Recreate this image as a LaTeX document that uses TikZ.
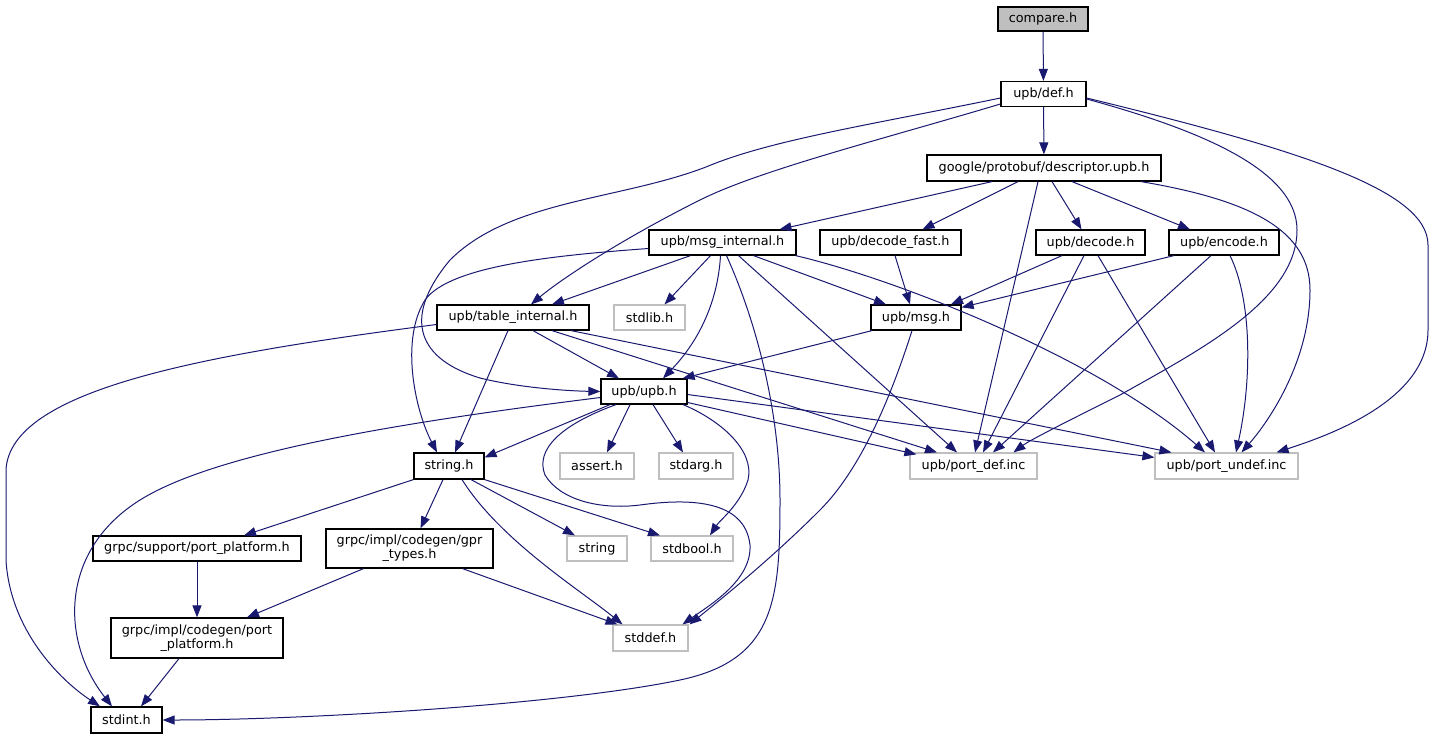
\documentclass[tikz,border=0pt]{standalone}
\usepackage{fontspec}
\setmainfont{DejaVu Sans}
\usetikzlibrary{arrows.meta}
\definecolor{navy}{RGB}{25,25,112}
\definecolor{syslight}{RGB}{191,191,191}
\begin{document}
\begin{tikzpicture}[x=1pt,y=-1pt,
    file/.style={draw=black,fill=white,line width=1.2pt,inner sep=0pt,minimum height=25pt,
      font=\fontsize{12.8}{14}\selectfont,align=center},
    sysfile/.style={file,draw=syslight},
    dep/.style={draw=navy,line width=1pt,-{Triangle[length=12pt,width=9pt]}}]
    \useasboundingbox (0,0) rectangle (1435,739);
    \node[file,fill=syslight,minimum width=90pt,minimum height=24pt] (compare) at (1043,19) {compare.h};
    \node[file,minimum width=85pt] (def) at (1043.5,94) {upb/def.h};
    \node[file,minimum width=234pt,minimum height=26pt] (desc) at (1044,168) {google/protobuf/descriptor.upb.h};
    \node[file,minimum width=147pt] (msgint) at (722.5,242.5) {upb/msg\_internal.h};
    \node[file,minimum width=141pt] (decfast) at (890.5,242.5) {upb/decode\_fast.h};
    \node[file,minimum width=109pt] (decode) at (1090.5,242.5) {upb/decode.h};
    \node[file,minimum width=110pt] (encode) at (1224,242.5) {upb/encode.h};
    \node[file,minimum width=152pt] (tabint) at (513,317.5) {upb/table\_internal.h};
    \node[sysfile,minimum width=71pt] (stdlib) at (649.5,317.5) {stdlib.h};
    \node[file,minimum width=90pt] (msg) at (916,317.5) {upb/msg.h};
    \node[file,minimum width=86pt] (upb) at (644,391.5) {upb/upb.h};
    \node[file,minimum width=70pt,minimum height=26pt] (string) at (449,466) {string.h};
    \node[sysfile,minimum width=74pt,minimum height=26pt] (assert) at (597,466) {assert.h};
    \node[sysfile,minimum width=74pt,minimum height=26pt] (stdarg) at (696,466) {stdarg.h};
    \node[sysfile,minimum width=127pt,minimum height=26pt] (portdef) at (973.5,466) {upb/port\_def.inc};
    \node[sysfile,minimum width=143pt,minimum height=26pt] (portundef) at (1226.5,466) {upb/port\_undef.inc};
    \node[file,minimum width=208pt] (grpcsup) at (197,548.5) {grpc/support/port\_platform.h};
    \node[file,minimum width=167pt,minimum height=39pt] (gprtypes) at (409.5,548.5) {grpc/impl/codegen/gpr\\\_types.h};
    \node[sysfile,minimum width=60pt] (strg) at (597,548.5) {string};
    \node[sysfile,minimum width=82pt] (stdbool) at (692,548.5) {stdbool.h};
    \node[file,minimum width=172pt,minimum height=40pt] (codegenpp) at (197,638) {grpc/impl/codegen/port\\\_platform.h};
    \node[sysfile,minimum width=75pt,minimum height=26pt] (stddef) at (650.5,638) {stddef.h};
    \node[file,minimum width=71pt,minimum height=26pt] (stdint) at (126.5,720) {stdint.h};

    \draw[dep] (compare) -- (def);
    \draw[dep] (def) -- (desc);
    \draw[dep] ([yshift=-4pt]def.west) .. controls (870,125) and (770,140) .. (706,167)
      .. controls (620,200) and (510,200) .. (450,260) .. controls (400,320) and (420,360) .. (480,378)
      .. controls (520,388) and (570,391) .. (upb.west);
    \draw[dep] ([yshift=-10pt]def.west) .. controls (880,140) and (760,170) .. (700,200)
      .. controls (620,240) and (560,280) .. ([xshift=18pt]tabint.north);
    \draw[dep] ([yshift=-5pt]def.east) .. controls (1200,130) and (1297,170) .. (1297,230)
      .. controls (1297,300) and (1200,350) .. (1120,395) .. controls (1070,420) and (1030,440) .. ([xshift=40pt]portdef.north);
    \draw[dep] ([yshift=-4pt]def.east) .. controls (1300,150) and (1428,190) .. (1428,245) -- (1428,330)
      .. controls (1428,400) and (1330,435) .. ([xshift=50pt]portundef.north);

    \draw[dep] ([xshift=-52pt]desc.south) -- ([xshift=57pt]msgint.north);
    \draw[dep] ([xshift=-26pt]desc.south) -- ([xshift=32pt]decfast.north);
    \draw[dep] ([xshift=-6pt]desc.south) -- ([xshift=1.5pt]portdef.north);
    \draw[dep] ([xshift=8pt]desc.south) -- ([xshift=-9pt]decode.north);
    \draw[dep] ([xshift=28pt]desc.south) -- ([xshift=-34pt]encode.north);
    \draw[dep] ([xshift=97pt]desc.south) .. controls (1250,200) and (1310,230) .. (1310,290)
      .. controls (1310,360) and (1270,420) .. ([xshift=15pt]portundef.north);

    \draw[dep] ([yshift=-6pt]msgint.west) .. controls (560,255) and (450,265) .. (425,300)
      .. controls (400,340) and (415,410) .. ([xshift=-12pt]string.north);
    \draw[dep] ([xshift=-32pt]msgint.south) -- ([xshift=39pt]tabint.north);
    \draw[dep] ([xshift=-12pt]msgint.south) -- ([xshift=15pt]stdlib.north);
    \draw[dep] ([xshift=-2pt]msgint.south) .. controls (718,300) and (700,340) .. ([xshift=19pt]upb.north);
    \draw[dep] ([xshift=4pt]msgint.south) .. controls (760,330) and (780,420) .. (780,500)
      .. controls (780,600) and (775,660) .. (680,680) .. controls (560,705) and (300,720) .. (stdint.east);
    \draw[dep] ([xshift=16pt]msgint.south) -- ([xshift=-16.5pt]portdef.north);
    \draw[dep] ([xshift=31pt]msgint.south) -- ([xshift=-30pt]msg.north);
    \draw[dep] ([xshift=-1pt]msgint.south east) .. controls (900,280) and (1100,360) .. ([xshift=-21.5pt]portundef.north);

    \draw[dep] ([xshift=4.5pt]decfast.south) -- ([xshift=-6pt]msg.north);
    \draw[dep] ([xshift=-28.5pt]decode.south) -- ([xshift=35pt]msg.north);
    \draw[dep] ([xshift=-6.5pt]decode.south) -- ([xshift=9.5pt]portdef.north);
    \draw[dep] ([xshift=7.5pt]decode.south) -- ([xshift=-11.5pt]portundef.north);
    \draw[dep] ([xshift=-50pt]encode.south) -- ([yshift=-3pt]msg.north east);
    \draw[dep] ([xshift=-13pt]encode.south) -- ([xshift=19.5pt]portdef.north);
    \draw[dep] ([xshift=6pt]encode.south) .. controls (1252,300) and (1252,380) .. ([xshift=9.5pt]portundef.north);

    \draw[dep] ([yshift=-7pt]tabint.west) .. controls (200,355) and (10,390) .. (6,470) -- (6,560)
      .. controls (10,630) and (60,680) .. ([xshift=-26.5pt]stdint.north);
    \draw[dep] ([xshift=-5pt]tabint.south) -- ([xshift=6pt]string.north);
    \draw[dep] ([xshift=20pt]tabint.south) -- ([xshift=-25pt]upb.north);
    \draw[dep] ([xshift=39pt]tabint.south) -- ([xshift=-36.5pt]portdef.north);
    \draw[dep] ([xshift=58pt]tabint.south) -- ([xshift=17pt]portundef.north west);

    \draw[dep] ([xshift=-44pt]msg.south) -- ([xshift=-5pt]upb.north east);
    \draw[dep] ([xshift=-4pt]msg.south) .. controls (890,400) and (860,470) .. (820,510)
      .. controls (770,560) and (720,600) .. ([xshift=39pt]stddef.north);

    \draw[dep] ([yshift=-6pt]upb.west) .. controls (420,420) and (220,450) .. (140,500)
      .. controls (60,550) and (60,640) .. ([xshift=-14.5pt]stdint.north);
    \draw[dep] ([xshift=-34pt]upb.south) -- ([yshift=-5pt]string.north east);
    \draw[dep] ([xshift=-28pt]upb.south) .. controls (560,425) and (535,450) .. (545,475)
      .. controls (560,500) and (600,510) .. (640,505) .. controls (690,498) and (745,500) .. (750,545)
      .. controls (752,580) and (710,605) .. ([xshift=32pt]stddef.north);
    \draw[dep] ([xshift=-14pt]upb.south) -- ([xshift=10pt]assert.north);
    \draw[dep] ([xshift=9pt]upb.south) -- ([xshift=-13pt]stdarg.north);
    \draw[dep] ([xshift=39pt]upb.south) .. controls (720,420) and (755,450) .. (748,480)
      .. controls (740,505) and (720,520) .. ([xshift=18pt]stdbool.north);
    \draw[dep] ([yshift=-11pt]upb.east) -- ([xshift=7pt,yshift=-2pt]portdef.north west);
    \draw[dep] ([yshift=-3pt]upb.east) -- ([yshift=-5pt]portundef.north west);

    \draw[dep] (string.south west) -- ([xshift=47pt]grpcsup.north);
    \draw[dep] ([xshift=-6pt]string.south) -- ([xshift=11pt]gprtypes.north);
    \draw[dep] ([xshift=13pt]string.south) .. controls (500,540) and (580,590) .. ([xshift=-28pt]stddef.north);
    \draw[dep] ([xshift=22pt]string.south) -- ([xshift=-22pt]strg.north);
    \draw[dep] (string.south east) -- ([xshift=-32pt]stdbool.north);

    \draw[dep] (grpcsup) -- (codegenpp);
    \draw[dep] ([xshift=-46pt]gprtypes.south) -- ([xshift=50pt]codegenpp.north);
    \draw[dep] ([xshift=53pt]gprtypes.south) -- ([xshift=-33pt]stddef.north);
    \draw[dep] ([xshift=-18pt]codegenpp.south) -- ([xshift=14.5pt]stdint.north);
  \end{tikzpicture}
\end{document}
